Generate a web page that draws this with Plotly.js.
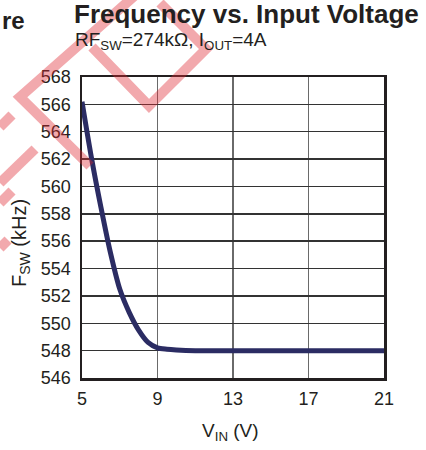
<!DOCTYPE html>
<html><head><meta charset="utf-8">
<script src="https://cdn.plot.ly/plotly-3.0.1.min.js"></script>
<style>html,body{margin:0;padding:0;background:#fff;}#chart{width:426px;height:450px;}</style>
</head><body><div id="chart"></div>
<script>
const vin = [5, 5.5, 6, 6.5, 7, 7.5, 8, 8.5, 9, 9.5, 10, 11, 13, 15, 17, 19, 21];
const fsw = [566.2, 562.1, 558.5, 555.2, 552.5, 550.8, 549.5, 548.6, 548.2, 548.1, 548.05, 548.0, 548.0, 548.0, 548.0, 548.0, 548.0];
const xTicks = [5, 9, 13, 17, 21];
const yTicks = [546, 548, 550, 552, 554, 556, 558, 560, 562, 564, 566, 568];

const font = 'Liberation Sans, Arial, sans-serif';
const L = 82, T = 77, PW = 302, PH = 301, B = 378;
const px = v => (v - L) / PW;
const py = v => (B - v) / PH;

// decorative pink watermark strokes (pixel polylines, not data)
const wm = [
  [[140, -9], [20, 97], [90, 166]],
  [[92, 47], [149, 106], [206, 49], [160, 3]],
  [[0, 127], [12, 115]],
  [[0, 183], [35, 149]],
  [[0, 203], [12, 191]],
  [[0, 248], [8, 240]]
];
const shapes = wm.map(pts => ({
  type: 'path', xref: 'paper', yref: 'paper', layer: 'above',
  path: pts.map((p, i) => (i ? 'L' : 'M') + px(p[0]).toFixed(4) + ',' + py(p[1]).toFixed(4)).join(' '),
  line: {color: 'rgba(222,40,50,0.40)', width: 10}
}));

const trace = {
  x: vin, y: fsw, type: 'scatter', mode: 'lines',
  line: {color: '#2b2c63', width: 5, shape: 'spline', smoothing: 0.8},
  hoverinfo: 'skip'
};

const layout = {
  width: 426, height: 450,
  margin: {l: L, r: 42, t: T, b: 72, pad: 0},
  paper_bgcolor: '#fff', plot_bgcolor: '#fff',
  showlegend: false,
  font: {family: font, color: '#231f20', size: 18},
  xaxis: {
    range: [5, 21], tickvals: xTicks, ticktext: xTicks.map(String),
    showgrid: true, gridcolor: '#6a6a6a', gridwidth: 1.5,
    showline: true, linecolor: '#231f20', linewidth: 2.5, mirror: true,
    zeroline: false, ticks: '', ticklabelstandoff: 3,
    tickfont: {family: font, size: 18, color: '#231f20'}
  },
  yaxis: {
    range: [546, 568], tickvals: yTicks, ticktext: yTicks.map(String),
    showgrid: true, gridcolor: '#333', gridwidth: 1.5,
    showline: true, linecolor: '#231f20', linewidth: 2.5, mirror: true,
    zeroline: false, ticks: '', ticklabelstandoff: 5,
    tickfont: {family: font, size: 18, color: '#231f20'}
  },
  shapes: shapes,
  annotations: [
    {text: '<b>Frequency vs. Input Voltage</b>', xref: 'paper', yref: 'paper',
     x: px(72), y: py(14), xanchor: 'left', yanchor: 'middle',
     showarrow: false, font: {family: font, size: 26, color: '#231f20'}},
    {text: 'RF<sub>SW</sub>=274kΩ, I<sub>OUT</sub>=4A', xref: 'paper', yref: 'paper',
     x: px(73), y: py(41), xanchor: 'left', yanchor: 'middle',
     showarrow: false, font: {family: font, size: 19, color: '#231f20'}},
    {text: '<b>re</b>', xref: 'paper', yref: 'paper',
     x: px(0), y: py(21), xanchor: 'left', yanchor: 'middle',
     showarrow: false, font: {family: font, size: 24, color: '#231f20'}},
    {text: 'F<sub>SW</sub> (kHz)', xref: 'paper', yref: 'paper', textangle: -90,
     x: px(20), y: py(243), xanchor: 'center', yanchor: 'middle',
     showarrow: false, font: {family: font, size: 20, color: '#231f20'}},
    {text: 'V<sub>IN</sub> (V)', xref: 'paper', yref: 'paper',
     x: px(230), y: py(432), xanchor: 'center', yanchor: 'middle',
     showarrow: false, font: {family: font, size: 19, color: '#231f20'}}
  ]
};

Plotly.newPlot('chart', [trace], layout, {staticPlot: true, displayModeBar: false});
</script></body></html>
